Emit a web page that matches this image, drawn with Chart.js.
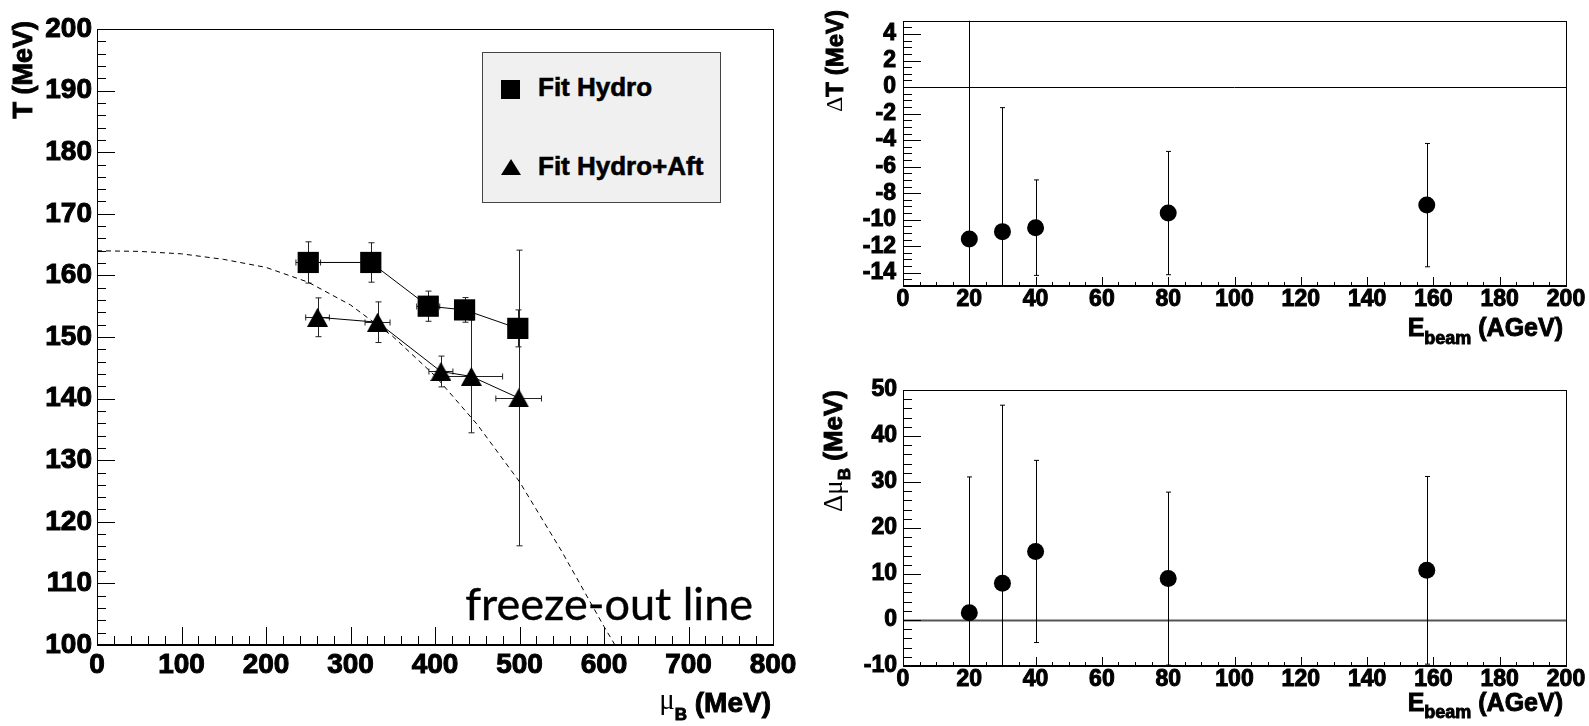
<!DOCTYPE html>
<html>
<head>
<meta charset="utf-8">
<script src="https://cdn.jsdelivr.net/npm/chart.js@4.4.1/dist/chart.umd.min.js"></script>
<style>
body { margin: 0; width: 1589px; height: 726px; background: #fff; position: relative; overflow: hidden; font-family: "Liberation Sans", Arial, sans-serif; }
canvas { position: absolute; }
#legend { position: absolute; left: 482px; top: 52px; width: 237px; height: 149px; background: #f0f0f0; border: 1px solid #444; }
.mk { position: absolute; }
.sq { width: 19px; height: 19px; background: #000; }
.tri { width: 0; height: 0; border-left: 10px solid transparent; border-right: 10px solid transparent; border-bottom: 16px solid #000; }
.lt { position: absolute; font-weight: bold; font-size: 26px; line-height: 26px; white-space: nowrap; color: #000; -webkit-text-stroke: 0.6px #000; }
#freeze { position: absolute; right: 836px; top: 576px; font-family: Lato, "Open Sans", sans-serif; font-size: 45px; line-height: 1.2; white-space: nowrap; color: #000; -webkit-text-stroke: 0.4px #000; }
</style>
</head>
<body>
<canvas id="tmuChart" width="800" height="726" style="left:0;top:0"></canvas>
<canvas id="dTChart" width="789" height="363" style="left:800px;top:0"></canvas>
<canvas id="dMuChart" width="789" height="363" style="left:800px;top:363px"></canvas>

<div id="legend"></div>
<div class="mk sq" style="left:501px;top:80px"></div>
<div class="lt" style="left:538px;top:74px">Fit Hydro</div>
<div class="mk tri" style="left:501px;top:159px"></div>
<div class="lt" style="left:538px;top:153px">Fit Hydro+Aft</div>
<div id="freeze">freeze-out line</div>

<script>
// ---- data ----
// left panel: T vs mu_B
const hydroMu    = [250, 324, 392, 435, 498];
const hydroT     = [162.1, 162.1, 155.0, 154.4, 151.4];
const hydroMuErr = [14.6, 5, 13.6, 5, 5];
const hydroTErr  = [3.35, 3.2, 2.45, 2.0, 3.0];

const aftMu    = [261, 332, 407, 443, 499];
const aftT     = [153.2, 152.4, 144.4, 143.6, 140.1];
const aftMuErr = [14, 14.8, 14.2, 37, 27];
const aftTErr  = [3.15, 3.3, 2.5, 9.15, 24];

// dashed freeze-out curve, read point by point
const freezeMu = [0, 50, 100, 150, 200, 250, 300, 350, 400, 450, 500, 550, 600, 613];
const freezeT  = [164, 163.9, 163.5, 162.6, 161.3, 158.9, 155.2, 150.1, 143.7, 135.8, 126.5, 115.2, 103.0, 100];

// right panels: shifts vs beam energy
const beamE      = [20, 30, 40, 80, 158];
const deltaT     = [-11.45, -10.9, -10.6, -9.5, -8.9];
const deltaTErr  = [20, 9.35, 3.6, 4.65, 4.65];
const deltaMu    = [1.6, 8.0, 14.9, 9.0, 10.8];
const deltaMuErr = [29.5, 38.7, 19.8, 18.8, 20.4];

// tick labels
const muTicks  = [0, 100, 200, 300, 400, 500, 600, 700, 800];
const tTicks   = [100, 110, 120, 130, 140, 150, 160, 170, 180, 190, 200];
const eTicks   = [0, 20, 40, 60, 80, 100, 120, 140, 160, 180, 200];
const dTTicks  = [-14, -12, -10, -8, -6, -4, -2, 0, 2, 4];
const dMuTicks = [-10, 0, 10, 20, 30, 40, 50];

const SANS = '"Liberation Sans", Arial, sans-serif';
const SERIF = '"Liberation Serif", "DejaVu Serif", serif';

function pts(xs, ys) {
    return xs.map((x, i) => ({ x: x, y: ys[i] }));
}

// triangle marker, centred on its bounding box like ROOT does
function triangleMarker(w, h) {
    const c = document.createElement('canvas');
    c.width = w; c.height = h;
    const g = c.getContext('2d');
    g.fillStyle = '#000';
    g.beginPath();
    g.moveTo(w / 2, 0); g.lineTo(w, h); g.lineTo(0, h);
    g.closePath(); g.fill();
    return c;
}

function drawParts(ctx, parts, x, y, rotate) {
    ctx.save();
    ctx.translate(x, y);
    if (rotate) ctx.rotate(-Math.PI / 2);
    let w = 0;
    parts.forEach(p => { ctx.font = p.font; w += ctx.measureText(p.text).width; });
    let cx = -w;
    ctx.fillStyle = '#000';
    ctx.strokeStyle = '#000';
    ctx.lineWidth = 0.9;
    ctx.textBaseline = 'middle';
    ctx.textAlign = 'left';
    parts.forEach(p => {
        ctx.font = p.font;
        ctx.fillText(p.text, cx, p.dy || 0);
        if (p.font.indexOf('bold') === 0) ctx.strokeText(p.text, cx, p.dy || 0);
        cx += ctx.measureText(p.text).width;
    });
    ctx.restore();
}

// ROOT-like frame: inner tick marks, error bars, zero line, axis titles
const rootStyle = {
    id: 'rootStyle',
    beforeDatasetsDraw(chart, args, o) {
        const ctx = chart.ctx, xs = chart.scales.x, ys = chart.scales.y, a = chart.chartArea;
        ctx.save();
        ctx.beginPath();
        ctx.rect(a.left, a.top, a.right - a.left, a.bottom - a.top);
        ctx.clip();
        if (o.zeroLine) {
            const y0 = Math.round(ys.getPixelForValue(0)) + 0.5;
            ctx.strokeStyle = o.zeroLine.color;
            ctx.lineWidth = o.zeroLine.width;
            ctx.beginPath(); ctx.moveTo(a.left, y0); ctx.lineTo(a.right, y0); ctx.stroke();
        }
        chart.data.datasets.forEach(ds => {
            if (!ds.yErr) return;
            ctx.strokeStyle = ds.errColor || '#000';
            ctx.lineWidth = 1;
            const cap = ds.cap || 3;
            ds.data.forEach((p, i) => {
                const px = Math.round(xs.getPixelForValue(p.x)) + 0.5;
                const py = Math.round(ys.getPixelForValue(p.y)) + 0.5;
                const y1 = ys.getPixelForValue(p.y + ds.yErr[i]);
                const y2 = ys.getPixelForValue(p.y - ds.yErr[i]);
                ctx.beginPath();
                ctx.moveTo(px, y1); ctx.lineTo(px, y2);
                ctx.moveTo(px - cap, y1); ctx.lineTo(px + cap, y1);
                ctx.moveTo(px - cap, y2); ctx.lineTo(px + cap, y2);
                if (ds.xErr) {
                    const x1 = xs.getPixelForValue(p.x - ds.xErr[i]);
                    const x2 = xs.getPixelForValue(p.x + ds.xErr[i]);
                    ctx.moveTo(x1, py); ctx.lineTo(x2, py);
                    ctx.moveTo(x1, py - cap); ctx.lineTo(x1, py + cap);
                    ctx.moveTo(x2, py - cap); ctx.lineTo(x2, py + cap);
                }
                ctx.stroke();
            });
        });
        ctx.restore();
    },
    afterDraw(chart, args, o) {
        const ctx = chart.ctx, xs = chart.scales.x, ys = chart.scales.y, a = chart.chartArea;
        ctx.save();
        ctx.strokeStyle = '#000';
        ctx.lineWidth = 1;
        ctx.beginPath();
        // y ticks (minor + major)
        for (let v = ys.min; v <= ys.max + 1e-9; v += o.yMinor) {
            const y = Math.round(ys.getPixelForValue(v)) + 0.5;
            const major = o.yMajor.some(m => Math.abs(m - v) < 1e-6);
            ctx.moveTo(a.left, y); ctx.lineTo(a.left + (major ? o.yMajorLen : o.yMinorLen), y);
        }
        // x ticks
        for (let v = xs.min; v <= xs.max + 1e-9; v += o.xMinor) {
            const x = Math.round(xs.getPixelForValue(v)) + 0.5;
            const major = o.xMajor.some(m => Math.abs(m - v) < 1e-6);
            ctx.moveTo(x, a.bottom); ctx.lineTo(x, a.bottom - (major ? o.xMajorLen : o.xMinorLen));
        }
        ctx.stroke();
        // frame
        ctx.strokeRect(Math.round(a.left) + 0.5, Math.round(a.top) + 0.5,
            Math.round(a.right - a.left), Math.round(a.bottom - a.top));
        ctx.lineWidth = 2;
        ctx.beginPath();
        ctx.moveTo(a.left, Math.round(a.bottom)); ctx.lineTo(a.right + 1, Math.round(a.bottom));
        ctx.stroke();
        ctx.restore();
        drawParts(ctx, o.xTitle.parts, o.xTitle.x, o.xTitle.y, false);
        drawParts(ctx, o.yTitle.parts, o.yTitle.x, o.yTitle.y, true);
    }
};

function axis(min, max, tickList, size, pad, fit) {
    return {
        type: 'linear', min: min, max: max,
        grid: { display: false, drawTicks: false },
        border: { display: false },
        afterBuildTicks: s => { s.ticks = tickList.map(v => ({ value: v })); },
        afterFit: s => { if (s.isHorizontal()) s.height = fit; else s.width = fit; },
        ticks: {
            autoSkip: false, maxRotation: 0, minRotation: 0, padding: pad, color: '#000',
            textStrokeColor: '#000', textStrokeWidth: 1,
            font: { family: SANS, weight: 'bold', size: size }
        }
    };
}

const baseOpts = {
    responsive: false,
    animation: false,
    events: [],
    plugins: { legend: { display: false }, tooltip: { enabled: false } }
};

// ---- left: T vs mu_B ----
new Chart(document.getElementById('tmuChart'), {
    type: 'scatter',
    data: {
        datasets: [
            {
                data: pts(hydroMu, hydroT), xErr: hydroMuErr, yErr: hydroTErr, errColor: '#222', cap: 3,
                showLine: true, borderColor: '#000', borderWidth: 1,
                pointStyle: 'rect', pointRadius: 15, backgroundColor: '#000', pointBorderWidth: 0
            },
            {
                data: pts(aftMu, aftT), xErr: aftMuErr, yErr: aftTErr, errColor: '#222', cap: 3,
                showLine: true, borderColor: '#000', borderWidth: 1,
                pointStyle: triangleMarker(21, 19), pointRadius: 10, backgroundColor: '#000'
            },
            {
                data: pts(freezeMu, freezeT), showLine: true, borderColor: '#000', borderWidth: 1,
                borderDash: [5, 4], pointRadius: 0, tension: 0
            }
        ]
    },
    options: Object.assign({}, baseOpts, {
        layout: { padding: { left: 0, top: 29, right: 27, bottom: 0 } },
        scales: {
            x: axis(0, 800, muTicks, 28, 3, 81),
            y: axis(100, 200, tTicks, 28, 5, 97)
        },
        plugins: Object.assign({}, baseOpts.plugins, {
            rootStyle: {
                xMinor: 20, xMajor: muTicks, xMajorLen: 18, xMinorLen: 9,
                yMinor: 2, yMajor: tTicks, yMajorLen: 18, yMinorLen: 9,
                xTitle: { x: 771, y: 704, parts: [
                    { text: 'μ', font: '29px ' + SERIF, dy: -3 },
                    { text: 'B', font: 'bold 17px ' + SANS, dy: 11 },
                    { text: ' (MeV)', font: 'bold 28px ' + SANS }
                ] },
                yTitle: { x: 25, y: 21, parts: [
                    { text: 'T (MeV)', font: 'bold 27px ' + SANS }
                ] }
            }
        })
    }),
    plugins: [rootStyle]
});

// ---- top right: delta T ----
new Chart(document.getElementById('dTChart'), {
    type: 'scatter',
    data: {
        datasets: [{
            data: pts(beamE, deltaT), yErr: deltaTErr, cap: 2.5,
            pointStyle: 'circle', pointRadius: 8.5, backgroundColor: '#000', pointBorderWidth: 0
        }]
    },
    options: Object.assign({}, baseOpts, {
        layout: { padding: { left: 0, top: 8, right: 23, bottom: 0 } },
        scales: {
            x: axis(0, 200, eTicks, 23, 0, 77),
            y: axis(-15, 5, dTTicks, 23, 7, 103)
        },
        plugins: Object.assign({}, baseOpts.plugins, {
            rootStyle: {
                zeroLine: { color: '#000', width: 1 },
                xMinor: 5, xMajor: eTicks, xMajorLen: 9, xMinorLen: 4,
                yMinor: 0.5, yMajor: dTTicks, yMajorLen: 18, yMinorLen: 9,
                xTitle: { x: 763, y: 329, parts: [
                    { text: 'E', font: 'bold 25px ' + SANS },
                    { text: 'beam', font: 'bold 18px ' + SANS, dy: 10 },
                    { text: ' (AGeV)', font: 'bold 25px ' + SANS }
                ] },
                yTitle: { x: 36, y: 10, parts: [
                    { text: 'Δ', font: '24px ' + SERIF },
                    { text: 'T (MeV)', font: 'bold 24px ' + SANS }
                ] }
            }
        })
    }),
    plugins: [rootStyle]
});

// ---- bottom right: delta mu_B ----
new Chart(document.getElementById('dMuChart'), {
    type: 'scatter',
    data: {
        datasets: [{
            data: pts(beamE, deltaMu), yErr: deltaMuErr, cap: 2.5,
            pointStyle: 'circle', pointRadius: 8.5, backgroundColor: '#000', pointBorderWidth: 0
        }]
    },
    options: Object.assign({}, baseOpts, {
        layout: { padding: { left: 0, top: 27, right: 23, bottom: 0 } },
        scales: {
            x: axis(0, 200, eTicks, 23, 0, 60),
            y: axis(-10, 50, dMuTicks, 23, 6, 103)
        },
        plugins: Object.assign({}, baseOpts.plugins, {
            rootStyle: {
                zeroLine: { color: '#555', width: 2 },
                xMinor: 5, xMajor: eTicks, xMajorLen: 9, xMinorLen: 4,
                yMinor: 2, yMajor: dMuTicks, yMajorLen: 18, yMinorLen: 9,
                xTitle: { x: 763, y: 341, parts: [
                    { text: 'E', font: 'bold 25px ' + SANS },
                    { text: 'beam', font: 'bold 18px ' + SANS, dy: 9 },
                    { text: ' (AGeV)', font: 'bold 25px ' + SANS }
                ] },
                yTitle: { x: 35, y: 27, parts: [
                    { text: 'Δμ', font: '27px ' + SERIF },
                    { text: 'B', font: 'bold 17px ' + SANS, dy: 10 },
                    { text: ' (MeV)', font: 'bold 26px ' + SANS }
                ] }
            }
        })
    }),
    plugins: [rootStyle]
});
</script>
</body>
</html>
